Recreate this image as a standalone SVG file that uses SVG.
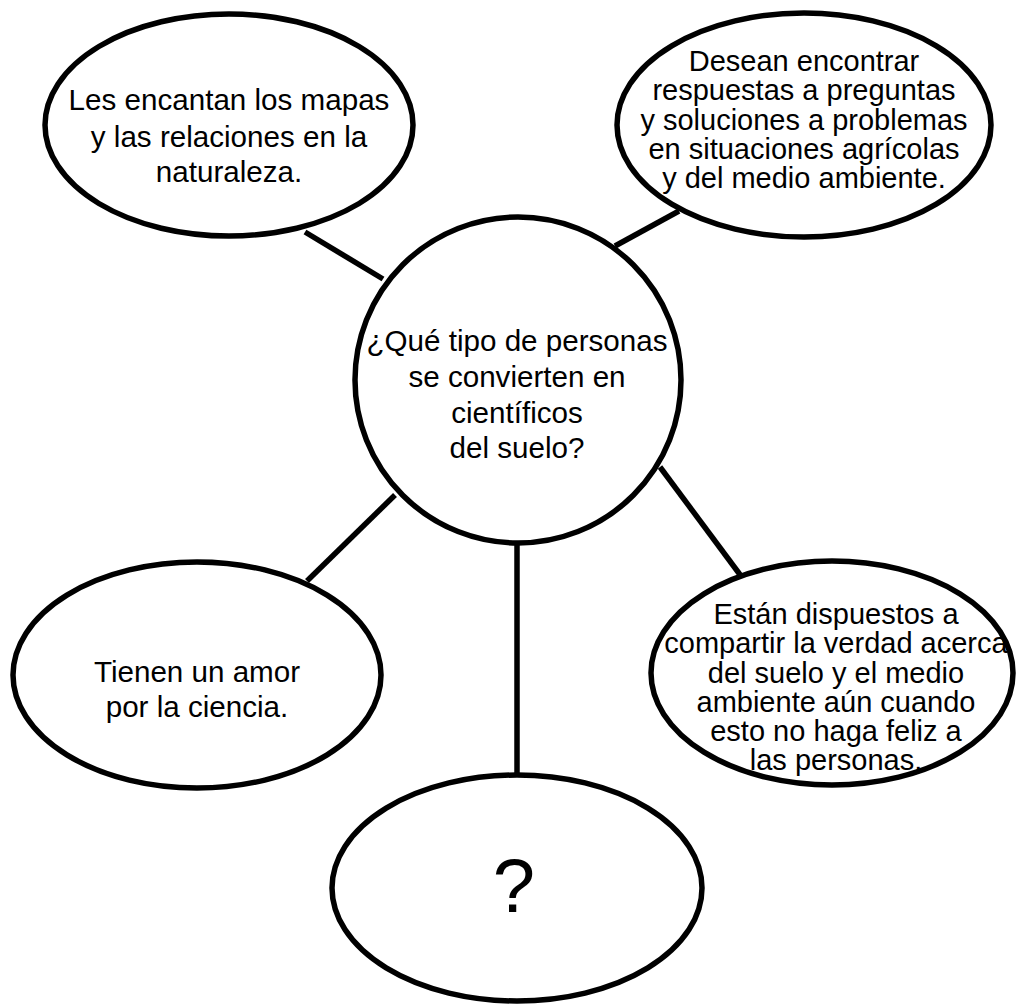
<svg xmlns="http://www.w3.org/2000/svg" width="1017" height="1005" viewBox="0 0 1017 1005">
<style>
.n{fill:#fff;stroke:#000;stroke-width:5.5}
.c line{stroke:#000;stroke-width:5.5}
text{font-family:"Liberation Sans",Arial,sans-serif;font-size:29.6px;fill:#000;text-anchor:middle}
.d text{font-size:29px}
</style>
<rect width="1017" height="1005" fill="#fff"/>
<g class="c" id="connectors">
<line x1="305" y1="232" x2="383" y2="279"/>
<line x1="679" y1="211" x2="615" y2="246"/>
<line x1="395" y1="495" x2="307" y2="581"/>
<line x1="517" y1="543" x2="517" y2="774"/>
<line x1="660" y1="467" x2="741" y2="576"/>
</g>
<g id="center">
<circle class="n" cx="518" cy="380" r="163"/>
<text x="517" y="351">¿Qué tipo de personas</text>
<text x="517" y="387">se convierten en</text>
<text x="517" y="423">científicos</text>
<text x="517" y="458">del suelo?</text>
</g>
<g id="topleft">
<ellipse class="n" cx="229" cy="125" rx="184" ry="111"/>
<text x="229" y="110">Les encantan los mapas</text>
<text x="229" y="147">y las relaciones en la</text>
<text x="229" y="182">naturaleza.</text>
</g>
<g id="topright" class="d">
<ellipse class="n" cx="804" cy="125" rx="187" ry="112"/>
<text x="804" y="71">Desean encontrar</text>
<text x="804" y="100">respuestas a preguntas</text>
<text x="804" y="130">y soluciones a problemas</text>
<text x="804" y="159">en situaciones agrícolas</text>
<text x="804" y="188">y del medio ambiente.</text>
</g>
<g id="left">
<ellipse class="n" cx="197" cy="675" rx="184" ry="113"/>
<text x="197" y="682">Tienen un amor</text>
<text x="197" y="717">por la ciencia.</text>
</g>
<g id="right" class="d">
<ellipse class="n" cx="832" cy="673" rx="181" ry="112"/>
<text x="836" y="624">Están dispuestos a</text>
<text x="836" y="653">compartir la verdad acerca</text>
<text x="836" y="683">del suelo y el medio</text>
<text x="836" y="712">ambiente aún cuando</text>
<text x="836" y="741">esto no haga feliz a</text>
<text x="836" y="770">las personas.</text>
</g>
<g id="bottom">
<ellipse class="n" cx="517" cy="888" rx="185" ry="113"/>
<text x="514" y="912" style="font-size:76px">?</text>
</g>
</svg>
